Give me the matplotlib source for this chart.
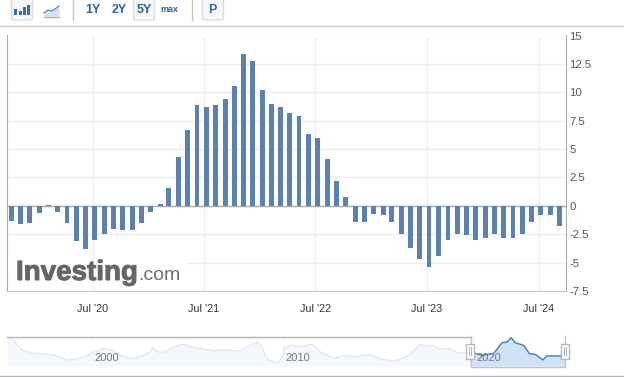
import pandas as pd
import matplotlib
matplotlib.use("Agg")
import matplotlib.pyplot as plt
import matplotlib.dates as mdates
import matplotlib.patheffects as pe
from matplotlib.patches import Rectangle, FancyBboxPatch

plt.rcParams['font.family'] = ['Liberation Sans', 'DejaVu Sans']

# monthly bars, Oct 2019 to Sep 2024
bar_dates = pd.date_range("2019-10-08", periods=60, freq=pd.DateOffset(months=1))
bar_values = [-1.3, -1.64, -1.47, -0.6, 0.05, -0.5, -1.55, -3.14, -3.76, -3.05, -2.44, -2.08,
              -2.17, -2.17, -1.55, -0.5, 0.2, 1.56, 4.3, 6.7, 8.9, 8.7, 8.9, 9.4,
              10.56, 13.4, 12.76, 10.2, 9.0, 8.7, 8.2, 7.9, 6.3, 6.0, 4.1, 2.2,
              0.8, -1.4, -1.4, -0.76, -0.85, -1.45, -2.5, -3.67, -4.64, -5.4, -4.46, -3.05,
              -2.5, -2.6, -3.05, -2.8, -2.5, -2.8, -2.87, -2.5, -1.45, -0.85, -0.85, -1.8]

y_ticks = [15, 12.5, 10, 7.5, 5, 2.5, 0, -2.5, -5, -7.5]
y_labels = ['15', '12.5', '10', '7.5', '5', '2.5', '0', '-2.5', '-5', '-7.5']
x_ticks = ["2020-07-01", "2021-07-01", "2022-07-01", "2023-07-01", "2024-07-01"]
x_labels = ["Jul '20", "Jul '21", "Jul '22", "Jul '23", "Jul '24"]

# long history in the small navigator strip
nav_years = [1995.57, 1995.88, 1996.23, 1996.75, 1997.45, 1998.06, 1998.76, 1999.37, 2000.0, 2000.6,
             2001.1, 2001.55, 2002.08, 2002.69, 2002.95, 2003.2, 2003.47, 2003.82, 2004.26, 2004.82,
             2005.22, 2005.83, 2006.35, 2006.79, 2007.75, 2008.18, 2008.71, 2008.88, 2009.14, 2009.67,
             2009.93, 2010.1, 2010.46, 2010.8, 2011.52, 2012.04, 2012.74, 2013.18, 2013.7, 2014.57,
             2015.18, 2015.88, 2016.58, 2017.19, 2017.54, 2017.8, 2018.24, 2018.68, 2019.2, 2019.8]
nav_values = [13.1, 11.7, 4.0, 0.3, -0.3, -1.7, -5.7, -4.0, 0.3, 4.3,
              2.3, -2.0, -4.2, -1.7, 0.3, 4.6, 0.9, 1.2, 5.4, 8.0,
              5.4, 3.7, 2.0, 2.9, 2.0, 6.0, 9.7, 6.0, -4.0, -8.5,
              -4.0, 4.6, 7.2, 5.4, 7.4, 0.3, -4.0, -1.7, -2.6, -1.1,
              -4.8, -6.5, -1.7, 7.4, 6.0, 6.8, 3.2, 4.0, 0.3, 0.3]
sel_years = [2019.8, 2020.07, 2020.42, 2021.03, 2021.47, 2021.73, 2021.94, 2022.16, 2022.6,
             2022.9, 2023.21, 2023.6, 2023.82, 2024.52, 2024.73]
sel_values = [0.3, 0.0, -1.7, 0.0, 8.9, 9.4, 13.1, 8.9, 6.6, -0.3, -0.8, -5.4, -2.0, -2.2, 0.3]
nav_grid = [2000, 2010, 2020]

W, H = 624, 377
fig = plt.figure(figsize=(W / 100, H / 100), dpi=100)

ax = fig.add_axes([6.5 / W, 1 - 291 / H, 559 / W, 255.5 / H])
ax.bar(bar_dates, bar_values, width=16, color='#5b82af', zorder=3)
ax.axhline(0, color='#aaaaaa', lw=1, zorder=2)
ax.set_xlim(pd.Timestamp("2019-09-23"), pd.Timestamp("2024-09-27"))
ax.set_ylim(-7.5, 15)
ax.yaxis.tick_right()
ax.set_yticks(y_ticks)
ax.set_yticklabels(y_labels)
ax.set_xticks(mdates.date2num(pd.to_datetime(x_ticks)))
ax.set_xticklabels(x_labels)
ax.grid(True, color='#eeeeee', lw=1, zorder=0)
ax.set_axisbelow(True)
ax.tick_params(axis='y', length=0, pad=2.8, labelsize=8.2, labelcolor='#555555')
ax.tick_params(axis='x', length=0, pad=9, labelsize=7.8, labelcolor='#333333')
ax.spines['top'].set_visible(False)
ax.spines['left'].set_color('#aaaaaa')
ax.spines['right'].set_color('#aaaaaa')
ax.spines['bottom'].set_color('#c0cad8')

# navigator
nav = fig.add_axes([7 / W, 1 - 366 / H, 558 / W, 30 / H])
nav.set_xlim(1995.55, 2024.76)
nav.set_ylim(-10.5, 14.5)
for yr in nav_grid:
    nav.axvline(yr, color='#f2f2f2', lw=0.6, zorder=0)
    nav.text(yr + 0.15, -3.9, str(yr), fontsize=8, color='#777777', ha='left', va='center', zorder=5)
nav.fill_between(nav_years, nav_values, -10.5, color='#f4f8fd', lw=0, zorder=1)
nav.plot(nav_years, nav_values, color='#dfe9f4', lw=1, zorder=2)
nav.fill_between(sel_years, sel_values, -10.5, color='#cfe2f9', lw=0, zorder=1)
nav.plot(sel_years, sel_values, color='#4a86c0', lw=1.1, zorder=2)
nav.axis('off')

# toolbar, frame lines and watermark in pixel coordinates
ov = fig.add_axes([0, 0, 1, 1], zorder=10)
ov.set_xlim(0, W)
ov.set_ylim(H, 0)
ov.axis('off')
ov.patch.set_alpha(0)

ov.plot([0, W], [25.5, 25.5], color='#c8c8c8', lw=1)
ov.plot([0, W], [375.5, 375.5], color='#b4b4b4', lw=1)

for x0 in [11.5, 133.5, 202.5]:
    ov.add_patch(FancyBboxPatch((x0, -4), 21, 24, boxstyle='round,pad=0,rounding_size=2',
                                fc='#f7f7f7', ec='#dddddd', lw=1))
for x0 in [72.5, 191.5]:
    ov.plot([x0, x0], [0, 20], color='#c4c4c4', lw=1)

for x0, top in [(14, 9), (18.5, 11), (22.5, 7), (26.5, 5)]:
    ov.add_patch(Rectangle((x0, top), 3, 15 - top, fc='#3a6ea5', lw=0))
ov.fill_between([44, 48, 52, 55, 59], [13, 10, 11, 9, 6], 16, color='#d5e2ee', lw=0)
ov.plot([44, 48, 52, 55, 59], [13, 10, 11, 9, 6], color='#4a80b5', lw=0.8)
ov.plot([44, 59], [16.5, 16.5], color='#a8b4c0', lw=1)

for label, xc, size in [('1Y', 93, 9), ('2Y', 119, 9), ('5Y', 144, 9), ('max', 169, 6.5), ('P', 212.5, 9)]:
    ov.text(xc, 10, label, fontsize=size, fontweight='bold', color='#2f63a6', ha='center', va='center')

# logo hides the gridline behind it
ov.add_patch(Rectangle((7.5, 261), 180, 4, fc='white', lw=0))
ov.text(16, 280, 'Investing', fontsize=20, fontweight='bold', color='#666666', ha='left', va='baseline',
        path_effects=[pe.withStroke(linewidth=0.7, foreground='#666666')])
ov.text(138, 280, '.com', fontsize=14, color='#707070', ha='left', va='baseline')
ov.add_patch(Rectangle((97.5, 258.5), 5, 4.5, fc='#fdc864', lw=0))

# navigator frame and handles
ov.plot([7, 470], [336.5, 336.5], color='#b4b4b4', lw=1)
ov.plot([470.5, 470.5, 564.5, 564.5], [336, 366.5, 366.5, 336], color='#c0c0c0', lw=1)
for x0 in [466, 560.5]:
    ov.add_patch(Rectangle((x0, 343.5), 8, 15, fc='white', ec='#b8b8b8', lw=1, zorder=6))
    ov.plot([x0 + 3, x0 + 3], [347, 355], color='#b8b8b8', lw=0.8, zorder=7)
    ov.plot([x0 + 5, x0 + 5], [347, 355], color='#b8b8b8', lw=0.8, zorder=7)

fig.savefig("out.png", dpi=100)
